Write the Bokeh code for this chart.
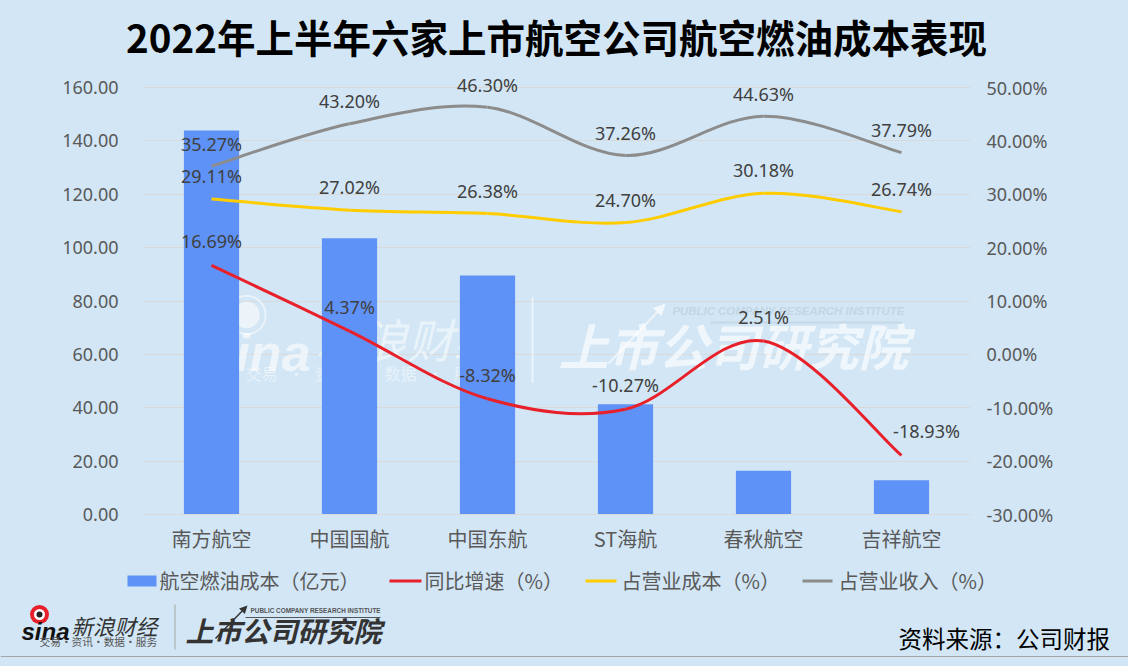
from bokeh.embed import file_html
from bokeh.resources import INLINE
from bokeh.layouts import column
from bokeh.plotting import figure
from bokeh.models import (Range1d, FactorRange, LinearAxis, FixedTicker, PrintfTickFormatter,
                          NumeralTickFormatter, Label, BoxAnnotation, Arrow, NormalHead)

categories = ["南方航空", "中国国航", "中国东航", "ST海航", "春秋航空", "吉祥航空"]
fuel_cost = [143.9, 103.5, 89.6, 41.3, 16.4, 12.8]
yoy_growth = [16.69, 4.37, -8.32, -10.27, 2.51, -18.93]
share_of_cost = [29.11, 27.02, 26.38, 24.70, 30.18, 26.74]
share_of_revenue = [35.27, 43.20, 46.30, 37.26, 44.63, 37.79]
left_ticks = [0, 20, 40, 60, 80, 100, 120, 140, 160]
right_ticks = [-30, -20, -10, 0, 10, 20, 30, 40, 50]
legend_labels = ["航空燃油成本（亿元）", "同比增速（%）", "占营业成本（%）", "占营业收入（%）"]

BG = "#D2E6F5"
CJK = "Noto Sans CJK SC"
BAR, RED, YEL, GRY = "#5F92F6", "#E8202A", "#FFCC00", "#8C8C8C"
W, H = 1128, 666
SPLIT = 560     # the chart figure ends here, the footer figure starts here
FRAME_TOP = 69  # head-room above the 160 tick so the top data label is not clipped

p = figure(width=W, height=SPLIT, output_backend="svg", toolbar_location=None,
           x_range=FactorRange(factors=categories, range_padding=0, factor_padding=0),
           y_range=Range1d(0, 160 * (514 - FRAME_TOP) / 427), background_fill_color=None, border_fill_color=BG,
           min_border_left=142, min_border_right=158, min_border_top=FRAME_TOP, min_border_bottom=SPLIT - 514,
           outline_line_color=None, frame_align=False)
p.extra_y_ranges = {"right": Range1d(-30, -30 + 80 * (514 - FRAME_TOP) / 427)}

p.title.text = "2022年上半年六家上市航空公司航空燃油成本表现"
p.title.text_font = CJK
p.title.text_font_size = "38.5px"
p.title.text_font_style = "bold"
p.title.text_color = "#000000"
p.title.align = "center"
p.title.standoff = 11


def wm(text, x, y, size, color="#FFFFFF", alpha=0.6, style="normal", font=CJK, align="left", base="middle"):
    p.add_layout(Label(x=x, y=y, x_units="canvas", y_units="canvas", text=text, level="underlay",
                       text_font=font, text_font_size=f"{size}px", text_color=color, text_alpha=alpha,
                       text_font_style=style, text_align=align, text_baseline=base))


def wm_box(x0, x1, y0, y1, color="#FFFFFF", alpha=0.6):
    p.add_layout(BoxAnnotation(left=x0, right=x1, top=y0, bottom=y1, left_units="canvas", right_units="canvas",
                               top_units="canvas", bottom_units="canvas", fill_color=color, fill_alpha=alpha,
                               line_color=None, level="underlay"))


# watermark (beneath the bars)
NB = "\u00a0" * 3
wm("◉", 246, 312, 44, align="center")
wm("sina", 206, 352, 52, style="bold italic", font="Liberation Sans", base="alphabetic")
wm("新浪财经", 315, 337, 46, style="italic", alpha=0.55)
wm(f"交易{NB}·{NB}资讯{NB}·{NB}数据{NB}·{NB}服务", 245, 372, 16, alpha=0.5)
wm("上市公司研究院", 558, 343, 50, style="bold italic", alpha=0.65)
wm("PUBLIC COMPANY RESEARCH INSTITUTE", 672, 310, 11.4, color="#BFD2E0", alpha=0.8, font="Liberation Sans",
   style="bold italic")
wm_box(531, 533, 297, 382)
wm_box(710, 902, 321, 323, color="#C4D6E4", alpha=0.9)
p.add_layout(Arrow(x_start=608, y_start=363, x_end=665, y_end=303, start_units="canvas", end_units="canvas",
                   line_color="#FFFFFF", line_alpha=0.6, line_width=2, level="underlay",
                   end=NormalHead(size=12, fill_color="#FFFFFF", fill_alpha=0.7, line_color=None)))

# axes
p.xgrid.visible = False
p.ygrid.grid_line_color = "#D9D9D9"
p.ygrid.grid_line_width = 1
p.ygrid.ticker = FixedTicker(ticks=left_ticks)

ax = p.xaxis[0]
ax.axis_line_color = "#D9D9D9"
ax.major_tick_line_color = None
ax.minor_tick_line_color = None
ax.major_label_text_font = CJK
ax.major_label_text_font_size = "20px"
ax.major_label_text_color = "#595959"
ax.major_label_standoff = 3

ay = p.yaxis[0]
ay.ticker = FixedTicker(ticks=left_ticks)
ay.formatter = NumeralTickFormatter(format="0.00")
ay2 = LinearAxis(y_range_name="right", ticker=FixedTicker(ticks=right_ticks),
                 formatter=PrintfTickFormatter(format="%.2f%%"))
p.add_layout(ay2, "right")
for a, standoff in ((ay, 18), (ay2, 10)):
    a.axis_line_color = None
    a.major_tick_line_color = None
    a.minor_tick_line_color = None
    a.major_label_text_font = "Noto Sans"
    a.major_label_text_font_size = "18px"
    a.major_label_text_color = "#595959"
    a.major_label_standoff = standoff

# bars
p.vbar(x=categories, top=fuel_cost, width=0.4, bottom=0, fill_color=BAR, line_color=None)


def smooth(values, color):
    """Smoothed line: cubic Bezier segments whose handles come from neighbouring data points."""
    xs = [i + 0.5 for i in range(len(values))]
    n = len(values)
    x0, y0, x1, y1, cx0, cy0, cx1, cy1 = [], [], [], [], [], [], [], []
    for i in range(n - 1):
        a, b = max(i - 1, 0), min(i + 2, n - 1)
        x0.append(xs[i]); y0.append(values[i]); x1.append(xs[i + 1]); y1.append(values[i + 1])
        cx0.append(xs[i] + (xs[i + 1] - xs[a]) / 6); cy0.append(values[i] + (values[i + 1] - values[a]) / 6)
        cx1.append(xs[i + 1] - (xs[b] - xs[i]) / 6); cy1.append(values[i + 1] - (values[b] - values[i]) / 6)
    return p.bezier(x0=x0, y0=y0, x1=x1, y1=y1, cx0=cx0, cy0=cy0, cx1=cx1, cy1=cy1,
                    line_color=color, line_width=3, y_range_name="right")


smooth(yoy_growth, RED)
smooth(share_of_cost, YEL)
smooth(share_of_revenue, GRY)

for series, dy in ((share_of_revenue, -22.5), (share_of_cost, -23), (yoy_growth, -24)):
    dx = [0] * len(series)
    dys = [dy] * len(series)
    if series is yoy_growth:
        dx[-1] = 25
    p.text(x=categories, y=series, text=[f"{v:.2f}%" for v in series], x_offset=dx, y_offset=dys,
           text_font={"value": "Noto Sans"}, text_font_size={"value": "18px"}, text_color="#404040",
           text_align="center", text_baseline="middle", y_range_name="right")

# footer figure: its ranges are the picture's own pixels, so the legend key and logos sit where they should
f = figure(width=W, height=H - SPLIT, output_backend="svg", toolbar_location=None,
           x_range=Range1d(0, W), y_range=Range1d(H, SPLIT), background_fill_color=None, border_fill_color=BG,
           min_border=0, outline_line_color=None, frame_align=False)
f.axis.visible = False
f.grid.visible = False


def t(text, x, y, size, color="#595959", style="normal", font=CJK, base="middle"):
    f.text(x=[x], y=[y], text=[text], text_font={"value": font}, text_font_size={"value": f"{size}px"},
           text_color=color, text_font_style=style, text_baseline=base, text_align="left")


def bx(x0, x1, y0, y1, color):
    f.quad(left=[x0], right=[x1], top=[y0], bottom=[y1], fill_color=color, line_color=None)


LEG_Y = 580
bx(127, 156, 575, 586, BAR)
t(legend_labels[0], 159, LEG_Y, 20)
bx(389, 421, 579, 582, RED)
t(legend_labels[1], 424, LEG_Y, 20)
bx(585, 616, 579, 582, YEL)
t(legend_labels[2], 621, LEG_Y, 20)
bx(802, 832, 579, 582, GRY)
t(legend_labels[3], 838, LEG_Y, 20)

# logos and source
f.scatter(x=[39], y=[614], size=19, fill_color=RED, line_color=None)
f.scatter(x=[39], y=[614], size=11, fill_color="#FFFFFF", line_color=None)
f.scatter(x=[39], y=[614], size=6, fill_color="#222222", line_color=None)
t("sina", 21, 631, 24, color="#111111", style="bold italic", font="Liberation Sans", base="alphabetic")
t("新浪财经", 71, 625, 21.5, color="#333333", style="italic")
t("交易·资讯·数据·服务", 39, 641, 10.7, color="#555555")
bx(174, 175, 604, 649, "#A6A6A6")
t("上市公司研究院", 185, 629, 28, color="#333333", style="bold italic")
t("PUBLIC COMPANY RESEARCH INSTITUTE", 250, 610, 6.4, color="#555555", font="Liberation Sans", style="bold")
bx(245, 380, 616.5, 617.5, "#555555")
f.add_layout(Arrow(x_start=215, y_start=638, x_end=247, y_end=605, line_color="#333333", line_width=1.5,
                   end=NormalHead(size=8, fill_color="#333333", line_color=None)))
t("资料来源：公司财报", 898, 637, 23.5, color="#000000")
bx(0, W, 655.5, 656.5, "#A6A6A6")

page = column(p, f, spacing=0, styles={"background-color": BG})
open("out.html", "w").write(file_html(page, INLINE))
